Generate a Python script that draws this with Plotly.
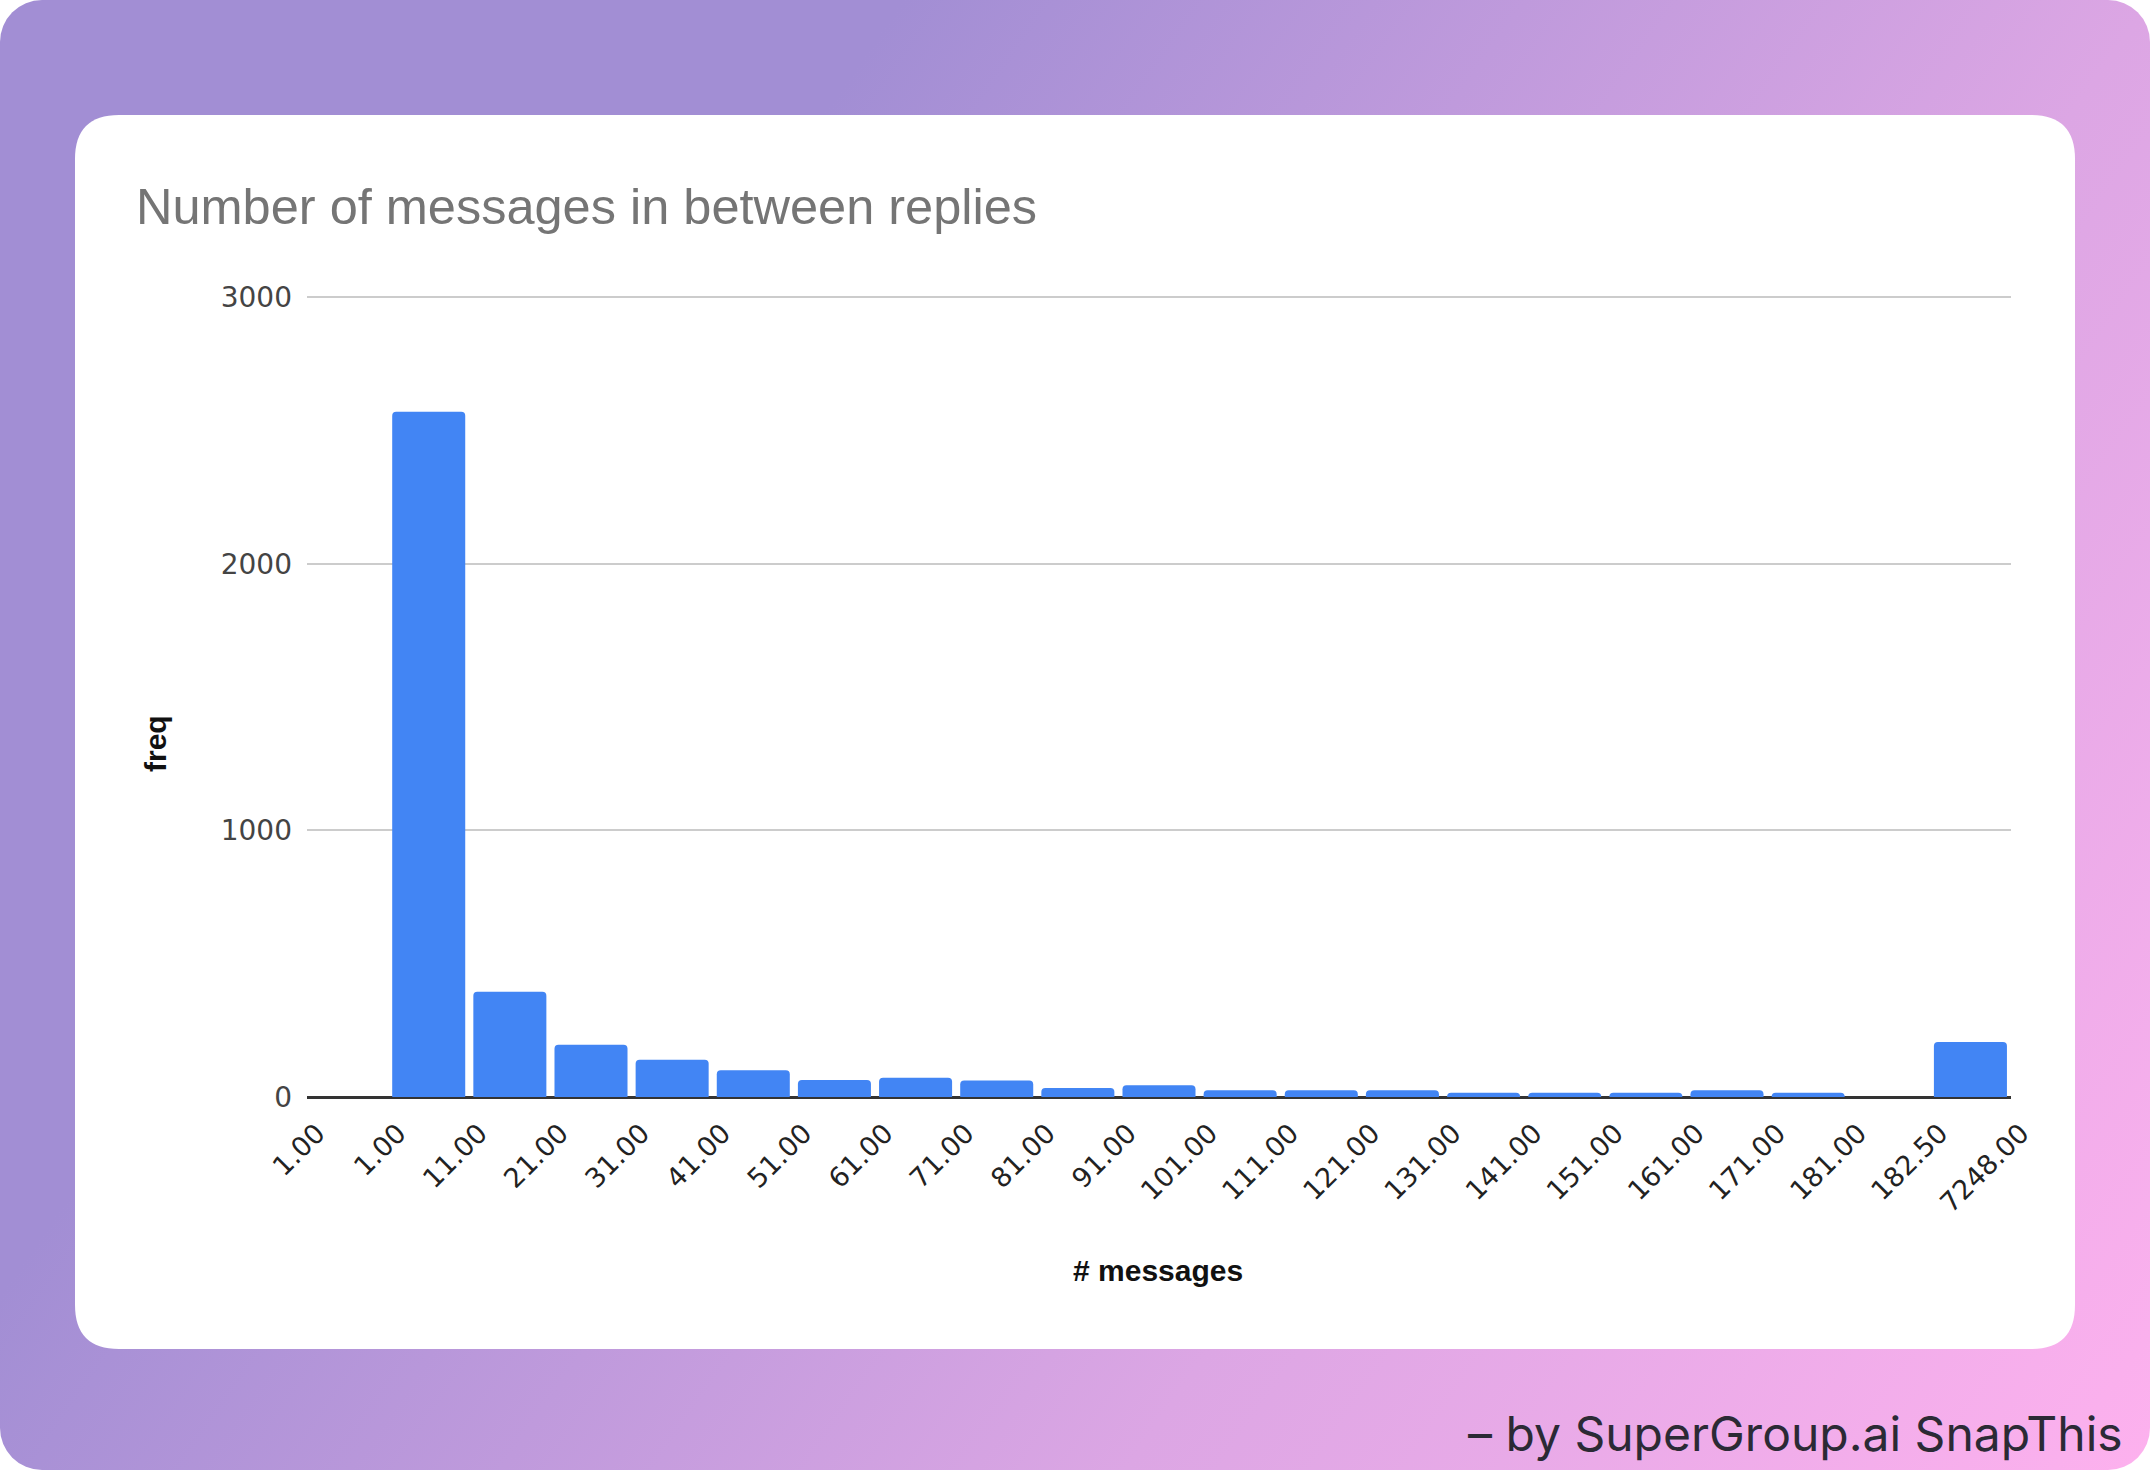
import base64
import plotly.graph_objects as go

# ---- data ----
bin_edges = ["1.00", "1.00", "11.00", "21.00", "31.00", "41.00", "51.00", "61.00",
             "71.00", "81.00", "91.00", "101.00", "111.00", "121.00", "131.00",
             "141.00", "151.00", "161.00", "171.00", "181.00", "182.50", "7248.00"]
freq = [0, 2570, 395, 196, 140, 100, 64, 72, 62, 34, 44, 25, 25, 25, 16, 16, 16, 25, 16, 0, 206]
y_ticks = [0, 1000, 2000, 3000]

W, H = 2150, 1470

# background gradient (decoration) as an inline SVG image
svg = f'''<svg xmlns="http://www.w3.org/2000/svg" width="{W}" height="{H}" viewBox="0 0 {W} {H}" preserveAspectRatio="none">
<defs><linearGradient id="g" x1="0.42" y1="0" x2="1.28" y2="0.41">
<stop offset="0" stop-color="#A28ED4"/><stop offset="0.55" stop-color="#DCA6E4"/>
<stop offset="1" stop-color="#FDB1EE"/></linearGradient></defs>
<rect x="0" y="0" width="{W}" height="{H}" rx="42" ry="42" fill="url(#g)"/>
</svg>'''
svg_uri = "data:image/svg+xml;base64," + base64.b64encode(svg.encode()).decode()

fig = go.Figure()
fig.add_trace(go.Bar(
    x=[i + 0.5 for i in range(len(freq))],
    y=freq,
    width=0.9,
    marker=dict(color="#4285F4", line=dict(width=0), cornerradius=4),
    hoverinfo="y",
))

def px_x(v):
    return v / W

def px_y(v):
    return 1 - v / H

# card shape
x0, x1, y0, y1, r = px_x(75), px_x(2075), px_y(1349), px_y(115), 44
rx, ry = r / W, r / H
path = (f"M {x0+rx},{y1} L {x1-rx},{y1} Q {x1},{y1} {x1},{y1-ry} "
        f"L {x1},{y0+ry} Q {x1},{y0} {x1-rx},{y0} L {x0+rx},{y0} "
        f"Q {x0},{y0} {x0},{y0+ry} L {x0},{y1-ry} Q {x0},{y1} {x0+rx},{y1} Z")

fig.update_layout(
    width=W, height=H,
    margin=dict(l=0, r=0, t=0, b=0, autoexpand=False),
    paper_bgcolor="white",
    plot_bgcolor="rgba(0,0,0,0)",
    showlegend=False,
    images=[dict(source=svg_uri, xref="paper", yref="paper", x=0, y=1,
                 sizex=1, sizey=1, sizing="stretch", layer="below",
                 xanchor="left", yanchor="top")],
    shapes=[dict(type="path", path=path, xref="paper", yref="paper",
                 fillcolor="white", line=dict(width=0), layer="below")],
    title=dict(text="Number of messages in between replies",
               x=px_x(136), xanchor="left", y=px_y(206), yanchor="middle",
               font=dict(family="Liberation Sans, Arial", size=50.5, color="#757575")),
    xaxis=dict(domain=[px_x(307), px_x(2011)], range=[0, 21],
               tickmode="array", tickvals=list(range(len(bin_edges))), ticktext=bin_edges,
               tickangle=-45, ticks="", showgrid=False, zeroline=False,
               showline=False, ticklabelstandoff=14, ticklabelshift=10,
               tickfont=dict(family="DejaVu Sans", size=27, color="#222222")),
    yaxis=dict(domain=[px_y(1097), px_y(296)], range=[0, 3004],
               tickmode="array", tickvals=y_ticks, ticktext=[str(v) for v in y_ticks],
               showgrid=True, gridcolor="#CCCCCC", gridwidth=1.5,
               zeroline=True, zerolinecolor="#333333", zerolinewidth=2.5,
               ticks="", ticklabelstandoff=14,
               tickfont=dict(family="DejaVu Sans", size=28, color="#444444")),
    annotations=[
        dict(text="<b>freq</b>", x=px_x(155), y=px_y(744), xref="paper", yref="paper",
             textangle=-90, showarrow=False, xanchor="center", yanchor="middle",
             font=dict(family="Liberation Sans Narrow, Liberation Sans, Arial", size=30, color="#111111")),
        dict(text="<b># messages</b>", x=px_x(1158), y=px_y(1270), xref="paper", yref="paper",
             showarrow=False, xanchor="center", yanchor="middle",
             font=dict(family="Liberation Sans Narrow, Liberation Sans, Arial", size=30, color="#111111")),
        dict(text="– by SuperGroup.ai SnapThis", x=px_x(2125), y=px_y(1433),
             xref="paper", yref="paper", showarrow=False, xanchor="right", yanchor="middle",
             font=dict(family="Inter, Open Sans", size=48, color="#2B2A35")),
    ],
)

fig.write_html("out.html", config={"displayModeBar": False},
               post_script="document.body.style.margin='0';")
